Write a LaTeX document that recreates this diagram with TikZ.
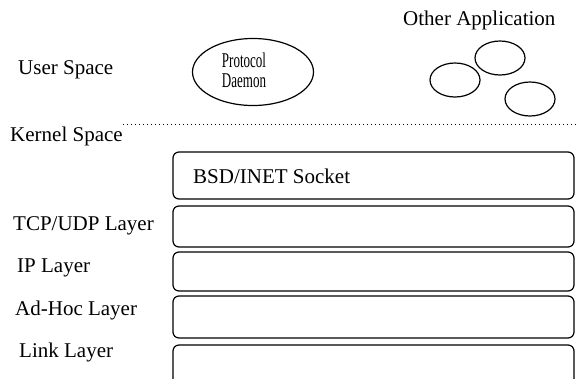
\documentclass[tikz,border=0pt]{standalone}
\usepackage{fontspec}
\usepackage{graphicx}
\setmainfont{Liberation Serif}
\usetikzlibrary{shapes.geometric}
\begin{document}
\begin{tikzpicture}[x=1pt,y=-1pt,
  lbl/.style={font=\fontsize{21}{23}\selectfont, anchor=west, inner sep=0pt},
  pdtext/.style={font=\fontsize{21}{23}\selectfont, anchor=base, inner sep=0pt},
  layerbox/.style={draw, line width=1.2pt, rounded corners=6pt},
  app/.style={draw, ellipse, line width=1.2pt, minimum width=50pt, minimum height=34pt, inner sep=0pt}]
\useasboundingbox (0,0) rectangle (577,378);
\clip (0,0) rectangle (577,378);
\node[lbl] (other) at (403,20) {Other Application};
\node[lbl] (user) at (18,70) {User Space};
\node[draw, ellipse, line width=1.2pt, minimum width=121pt, minimum height=67pt, inner sep=0pt] (pd) at (253,72) {};
\node[pdtext] (pdt1) at (244,67) {\scalebox{0.62}[1]{Protocol}};
\node[pdtext] (pdt2) at (244,87) {\scalebox{0.62}[1]{Daemon}};
\node[app] (a1) at (500,58) {};
\node[app] (a2) at (455,80) {};
\node[app] (a3) at (530,99) {};
\coordinate (ds) at (123,124);
\coordinate (de) at (577,124);
\draw[line width=1pt, dash pattern=on 1pt off 3pt] (ds) -- (de);
\node[lbl] (kernel) at (10,136) {Kernel Space};
\draw[layerbox] (173,152) rectangle (574,199);
\node[lbl] (bsd) at (193,176) {BSD/INET Socket};
\draw[layerbox] (173,206) rectangle (574,247);
\node[lbl] (tcp) at (13,226) {TCP/UDP Layer};
\draw[layerbox] (173,252) rectangle (574,291);
\node[lbl] (ip) at (17,268) {IP Layer};
\draw[layerbox] (173,296) rectangle (574,338);
\node[lbl] (adhoc) at (15,310) {Ad-Hoc Layer};
\draw[layerbox] (173,345) rectangle (574,392);
\node[lbl] (link) at (19,352) {Link Layer};
\end{tikzpicture}
\end{document}
